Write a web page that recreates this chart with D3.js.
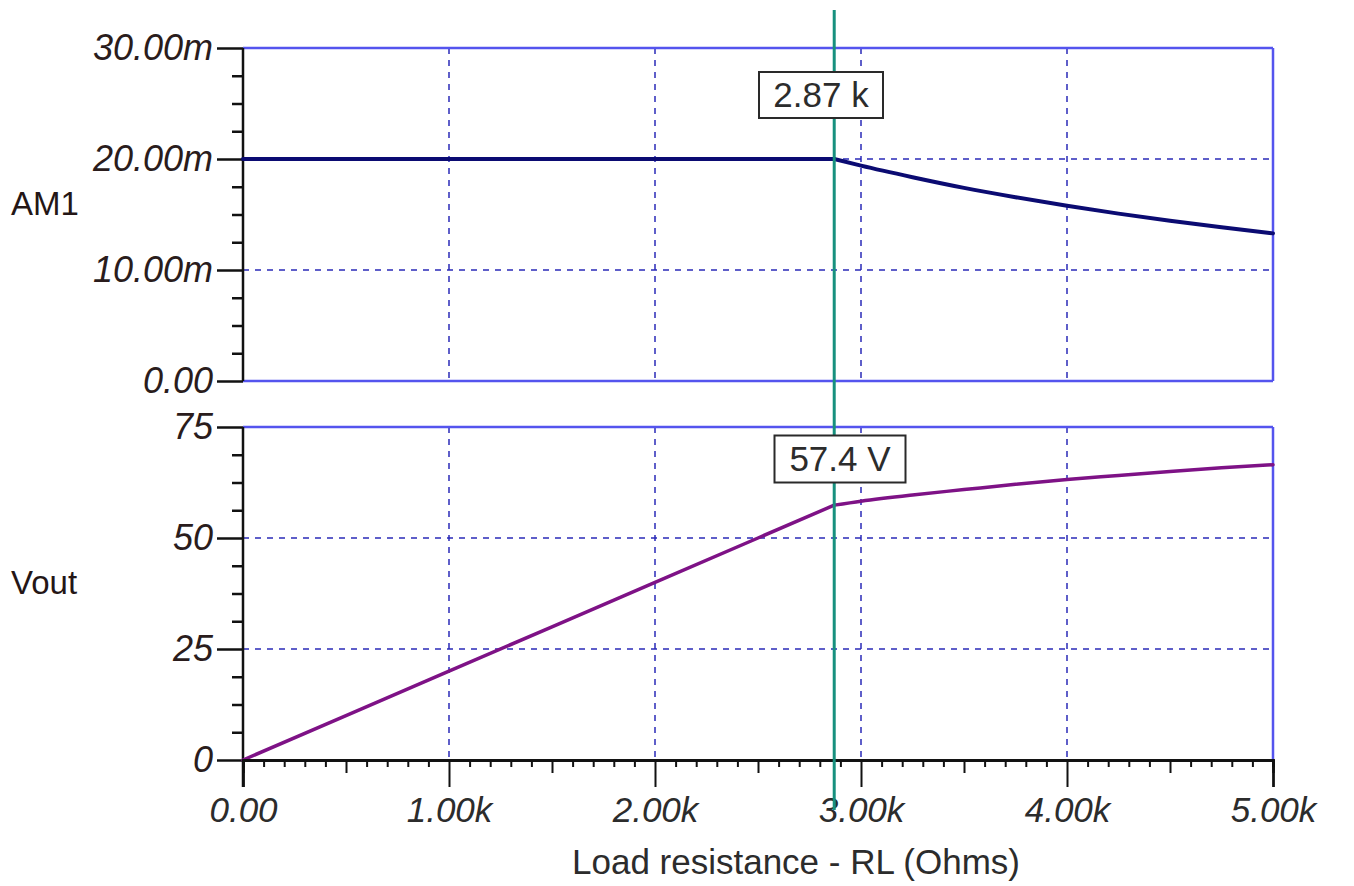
<!DOCTYPE html>
<html>
<head>
<meta charset="utf-8">
<script src="https://cdn.jsdelivr.net/npm/d3@7"></script>
<style>
	body { margin: 0; background: #fff; }
	svg text { font-family: "Liberation Sans", Arial, sans-serif; }
</style>
</head>
<body>
<svg id="chart" width="1354" height="886"></svg>
<script>
// Values
const resistance = [0, 500, 1000, 1500, 2000, 2500, 2870, 3000, 3250, 3500, 3750, 4000, 4250, 4500, 4750, 5000];
const currentAM1 = [0.020, 0.020, 0.020, 0.020, 0.020, 0.020, 0.020, 0.0194, 0.01836, 0.0174, 0.01656, 0.01579, 0.01508, 0.01444, 0.01385, 0.0133];
const voltageOut = [0, 10, 20, 30, 40, 50, 57.4, 58.3, 59.7, 60.9, 62.1, 63.2, 64.1, 65.0, 65.8, 66.5];
const xTicks = [0, 1000, 2000, 3000, 4000, 5000];
const currentTicks = [0, 0.01, 0.02, 0.03];
const voltTicks = [0, 25, 50, 75];
const cursorX = 2870;
const cursorLabels = ["2.87 k", "57.4 V"];

const svg = d3.select("#chart");

const left = 243, right = 1273;
const panels = [
	{ top: 48, bottom: 381, domain: [0, 0.03], ticks: currentTicks, values: currentAM1, color: "#0b0b72", width: 4, name: "AM1",
		fmt: (v) => v === 0 ? "0.00" : d3.format(".2f")(v * 1000) + "m" },
	{ top: 427, bottom: 760, domain: [0, 75], ticks: voltTicks, values: voltageOut, color: "#7e1286", width: 3.5, name: "Vout",
		fmt: (v) => String(v) }
];

const x = d3.scaleLinear().domain([0, 5000]).range([left, right]);
const frameColor = "#5454ee";
const gridColor = "#2a2ab8";
const textColor = "#2a1c1c";
const knee = resistance.indexOf(cursorX);

panels.forEach((p, i) => {
	const y = d3.scaleLinear().domain(p.domain).range([p.bottom, p.top]);
	const g = svg.append("g");

	// dashed grid
	g.selectAll("line.gx")
		.data(xTicks.slice(1, -1))
		.enter().append("line")
		.attr("x1", (d) => x(d)).attr("x2", (d) => x(d))
		.attr("y1", p.top).attr("y2", p.bottom)
		.attr("stroke", gridColor).attr("stroke-width", 1.5).attr("stroke-dasharray", "6,6");
	g.selectAll("line.gy")
		.data(p.ticks.slice(1, -1))
		.enter().append("line")
		.attr("x1", left).attr("x2", right)
		.attr("y1", (d) => y(d)).attr("y2", (d) => y(d))
		.attr("stroke", gridColor).attr("stroke-width", 1.5).attr("stroke-dasharray", "6,6");

	// blue frame (top, right, and bottom of upper panel)
	g.append("line").attr("x1", left).attr("x2", right).attr("y1", p.top).attr("y2", p.top)
		.attr("stroke", frameColor).attr("stroke-width", 2.5);
	g.append("line").attr("x1", right).attr("x2", right).attr("y1", p.top).attr("y2", p.bottom)
		.attr("stroke", frameColor).attr("stroke-width", 2.5);
	if (i === 0) {
		g.append("line").attr("x1", left).attr("x2", right).attr("y1", p.bottom).attr("y2", p.bottom)
			.attr("stroke", frameColor).attr("stroke-width", 2.5);
	}

	// y axis: minor ticks then major ticks
	const step = (p.domain[1] - p.domain[0]) / 12;
	const minor = d3.range(13).map((k) => p.domain[0] + k * step).filter((_, k) => k % 4 !== 0);
	const yMinor = g.append("g").attr("transform", `translate(${left},0)`)
		.call(d3.axisLeft(y).tickValues(minor).tickSize(11).tickFormat(""));
	const yMajor = g.append("g").attr("transform", `translate(${left},0)`)
		.call(d3.axisLeft(y).tickValues(p.ticks).tickSize(26).tickPadding(4).tickFormat(p.fmt));
	[yMinor, yMajor].forEach((a) => {
		a.select(".domain").remove();
		a.selectAll("line").attr("stroke", "#111").attr("stroke-width", 2.5);
	});
	yMajor.selectAll("text")
		.attr("font-size", 36).attr("font-style", "italic").attr("fill", textColor);

	g.append("line").attr("x1", left).attr("x2", left)
		.attr("y1", p.top).attr("y2", i === 1 ? 787 : p.bottom)
		.attr("stroke", "#111").attr("stroke-width", 2.5);

	// series: straight up to the knee, smooth after it
	const pts = p.values.map((v, k) => [resistance[k], v]);
	const straight = d3.line().x((d) => x(d[0])).y((d) => y(d[1]));
	const smooth = d3.line().x((d) => x(d[0])).y((d) => y(d[1])).curve(d3.curveMonotoneX);
	[[pts.slice(0, knee + 1), straight], [pts.slice(knee), smooth]].forEach(([seg, gen]) => {
		g.append("path").datum(seg)
			.attr("d", gen).attr("fill", "none")
			.attr("stroke", p.color).attr("stroke-width", p.width)
			.attr("stroke-linejoin", "round").attr("stroke-linecap", "round");
	});

	// series name
	g.append("text").attr("x", 11).attr("y", i === 0 ? 215 : 594)
		.attr("font-size", 33).attr("fill", "#241616").text(p.name);
});

// x axis on the lower panel
const xMinor = d3.range(51).map((k) => k * 100).filter((v) => v % 500 !== 0);
const xHalf = d3.range(5).map((k) => k * 1000 + 500);
const xAxisG = svg.append("g").attr("transform", "translate(0,760)");
xAxisG.append("g").call(d3.axisBottom(x).tickValues(xMinor).tickSize(7).tickFormat(""));
xAxisG.append("g").call(d3.axisBottom(x).tickValues(xHalf).tickSize(13).tickFormat(""));
const xMajor = xAxisG.append("g").call(d3.axisBottom(x).tickValues(xTicks).tickSize(27).tickPadding(10)
	.tickFormat((v) => v === 0 ? "0.00" : d3.format(".2f")(v / 1000) + "k"));
xAxisG.selectAll(".domain").attr("stroke", "#111").attr("stroke-width", 2.5);
xAxisG.selectAll("line").attr("stroke", "#111").attr("stroke-width", 2);
xMajor.selectAll("text").attr("font-size", 35).attr("font-style", "italic").attr("fill", "#2c2c2c");

svg.append("text").attr("x", 796).attr("y", 874).attr("text-anchor", "middle")
	.attr("font-size", 35).attr("fill", "#2c2c2c").text("Load resistance - RL (Ohms)");

// cursor
const cx = x(cursorX);
svg.append("line").attr("x1", cx).attr("x2", cx).attr("y1", 10).attr("y2", 810)
	.attr("stroke", "#17907e").attr("stroke-width", 3);

const boxes = [
	{ cx: 821, cy: 95, w: 124, h: 46, text: cursorLabels[0] },
	{ cx: 840, cy: 459, w: 131, h: 47, text: cursorLabels[1] }
];
boxes.forEach((b) => {
	svg.append("rect").attr("x", b.cx - b.w / 2).attr("y", b.cy - b.h / 2)
		.attr("width", b.w).attr("height", b.h)
		.attr("fill", "#fff").attr("stroke", "#2a2a2a").attr("stroke-width", 2);
	svg.append("text").attr("x", b.cx).attr("y", b.cy + 12).attr("text-anchor", "middle")
		.attr("font-size", 35).attr("fill", "#2c2c2c").text(b.text);
});
</script>
</body>
</html>
